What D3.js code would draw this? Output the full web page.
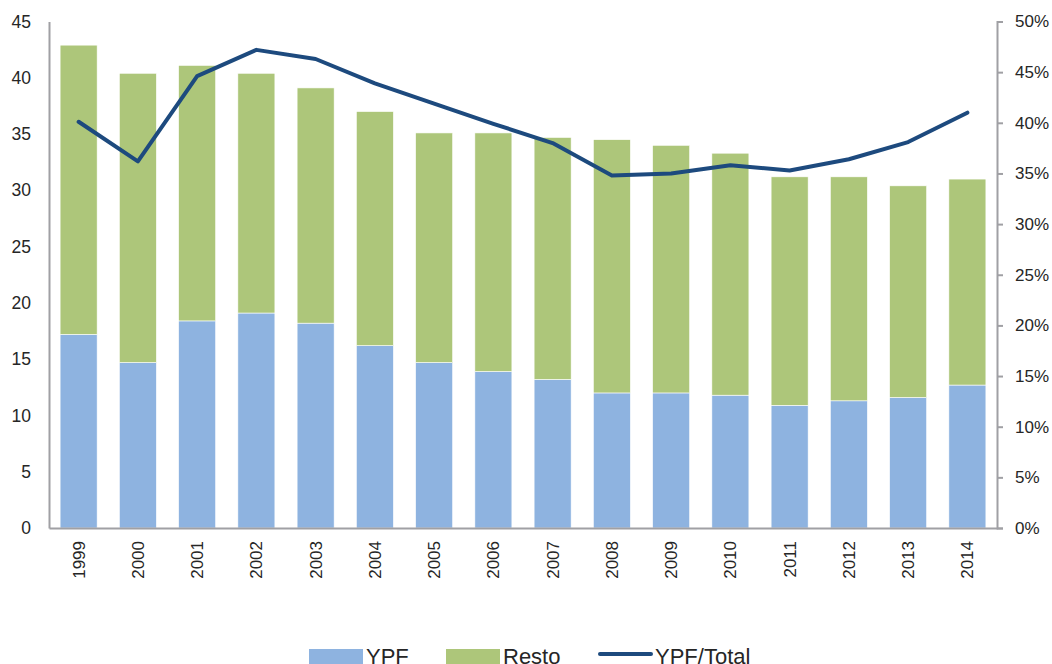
<!DOCTYPE html>
<html>
<head>
<meta charset="utf-8">
<script src="https://cdn.jsdelivr.net/npm/d3@7"></script>
<style>
  body { margin: 0; background: #fff; }
  text { font-family: "Liberation Sans", Arial, sans-serif; fill: #262626; }
</style>
</head>
<body>
<div id="chart"></div>
<script>
var years = ['1999','2000','2001','2002','2003','2004','2005','2006','2007','2008','2009','2010','2011','2012','2013','2014'];
var ypf   = [17.2, 14.7, 18.4, 19.1, 18.2, 16.2, 14.7, 13.9, 13.2, 12.0, 12.0, 11.8, 10.9, 11.3, 11.6, 12.7];
var total = [42.9, 40.4, 41.1, 40.4, 39.1, 37.0, 35.1, 35.1, 34.7, 34.5, 34.0, 33.3, 31.2, 31.2, 30.4, 31.0];
var share = [0.401, 0.362, 0.446, 0.472, 0.463, 0.439, 0.419, 0.399, 0.380, 0.348, 0.350, 0.358, 0.353, 0.364, 0.381, 0.410];
var leftTicks  = [0, 5, 10, 15, 20, 25, 30, 35, 40, 45];
var rightTicks = [0, 0.05, 0.1, 0.15, 0.2, 0.25, 0.3, 0.35, 0.4, 0.45, 0.5];

var colors = { ypf: '#8eb3e0', resto: '#adc67a', line: '#1d4a7e', axis: '#a0a0a4' };

var width = 1052, height = 664;
var plotLeft = 49, plotRight = 997, plotTop = 21.5, plotBottom = 528;

var svg = d3.select('#chart').append('svg')
    .attr('width', width)
    .attr('height', height);

var x = d3.scaleBand().domain(years).range([plotLeft, plotRight]).paddingInner(0.375).paddingOuter(0.1875);
var y = d3.scaleLinear().domain([0, 45]).range([plotBottom, plotTop]);
var y2 = d3.scaleLinear().domain([0, 0.5]).range([plotBottom, plotTop]);

// stacked bars
years.forEach(function(yr, i) {
    svg.append('rect')
        .attr('x', x(yr))
        .attr('y', y(ypf[i]))
        .attr('width', x.bandwidth())
        .attr('height', y(0) - y(ypf[i]))
        .attr('fill', colors.ypf)
        .attr('stroke', '#fff').attr('stroke-width', 0.6);
    svg.append('rect')
        .attr('x', x(yr))
        .attr('y', y(total[i]))
        .attr('width', x.bandwidth())
        .attr('height', y(ypf[i]) - y(total[i]))
        .attr('fill', colors.resto)
        .attr('stroke', '#fff').attr('stroke-width', 0.6);
});

// left axis (no ticks)
var gl = svg.append('g').attr('transform', 'translate(' + plotLeft + ',0)')
    .call(d3.axisLeft(y).tickValues(leftTicks).tickSize(0).tickPadding(18));
gl.select('.domain').attr('stroke', colors.axis).attr('stroke-width', 2);
gl.selectAll('text').style('font-size', '17.5px').attr('fill', '#262626');

// right axis
var gr = svg.append('g').attr('transform', 'translate(' + plotRight + ',0)')
    .call(d3.axisRight(y2).tickValues(rightTicks).tickSize(6).tickSizeOuter(6).tickPadding(12)
        .tickFormat(d3.format('.0%')));
gr.select('.domain').attr('stroke', colors.axis).attr('stroke-width', 2);
gr.selectAll('line').attr('stroke', colors.axis).attr('stroke-width', 2);
gr.selectAll('text').style('font-size', '17px').attr('fill', '#262626');

// bottom axis
var gb = svg.append('g').attr('transform', 'translate(0,' + plotBottom + ')')
    .call(d3.axisBottom(x).tickSize(0).tickSizeOuter(0));
gb.select('.domain').attr('stroke', colors.axis).attr('stroke-width', 2);
gb.selectAll('text')
    .style('font-size', '17px')
    .attr('fill', '#262626')
    .attr('text-anchor', 'end')
    .attr('transform', 'rotate(-90)')
    .attr('x', -13)
    .attr('y', 0)
    .attr('dy', '0.35em');

// share line
var line = d3.line()
    .x(function(d, i) { return x(years[i]) + x.bandwidth() / 2; })
    .y(function(d) { return y2(d); });
svg.append('path')
    .datum(share)
    .attr('d', line)
    .attr('fill', 'none')
    .attr('stroke', colors.line)
    .attr('stroke-width', 4)
    .attr('stroke-linejoin', 'round')
    .attr('stroke-linecap', 'round');

// legend
var legendY = 656;
var legend = [
    { label: 'YPF', type: 'rect', color: colors.ypf, x: 309 },
    { label: 'Resto', type: 'rect', color: colors.resto, x: 446 },
    { label: 'YPF/Total', type: 'line', color: colors.line, x: 598 }
];
legend.forEach(function(l) {
    if (l.type === 'rect') {
        svg.append('rect').attr('x', l.x).attr('y', legendY - 7).attr('width', 54).attr('height', 15).attr('fill', l.color);
    } else {
        svg.append('line').attr('x1', l.x + 2).attr('x2', l.x + 53).attr('y1', legendY - 2).attr('y2', legendY - 2)
            .attr('stroke', l.color).attr('stroke-width', 4).attr('stroke-linecap', 'round');
    }
    svg.append('text')
        .attr('x', l.x + 57)
        .attr('y', 664)
        .style('font-size', '22px')
        .text(l.label);
});
</script>
</body>
</html>
